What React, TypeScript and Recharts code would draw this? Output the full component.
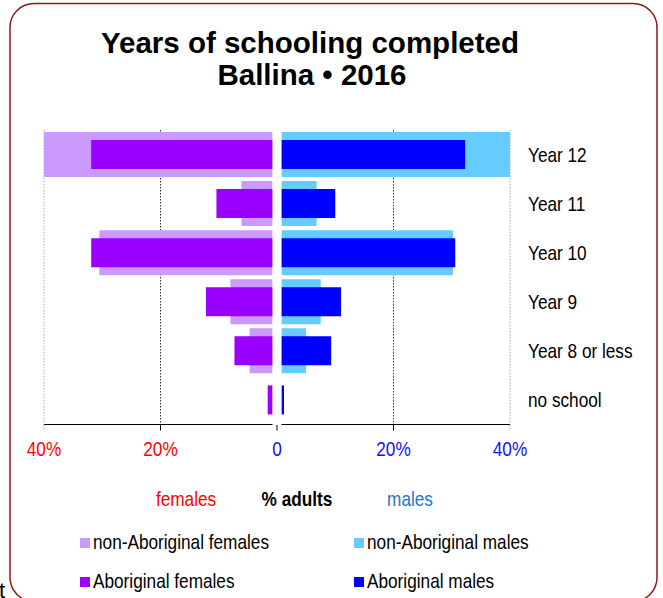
import React from 'react';
import { BarChart, Bar, XAxis, YAxis, CartesianGrid } from 'recharts';

const categories = ['Year 12', 'Year 11', 'Year 10', 'Year 9', 'Year 8 or less', 'no school'];
const nonAboriginalFemales = [45, 5.3, 29.7, 7.2, 3.9, 0];
const aboriginalFemales = [31.1, 9.6, 31.1, 11.4, 6.5, 0.8];
const nonAboriginalMales = [44, 6.0, 29.4, 6.7, 4.2, 0];
const aboriginalMales = [31.5, 9.2, 29.8, 10.2, 8.5, 0.4];
const xTicks = [-40, -20, 0, 20, 40];
const centreGap = 0.8;

const legendItems = [
  { name: 'non-Aboriginal females', color: '#CC99FF', col: 0, row: 0 },
  { name: 'non-Aboriginal males', color: '#66CCFF', col: 1, row: 0 },
  { name: 'Aboriginal females', color: '#9900FF', col: 0, row: 1 },
  { name: 'Aboriginal males', color: '#0000FF', col: 1, row: 1 },
];

const data = categories.map((cat, i) => ({
  cat,
  gapLn: -centreGap,
  gapRn: centreGap,
  gapLa: -centreGap,
  gapRa: centreGap,
  nonAbF: -nonAboriginalFemales[i],
  abF: -aboriginalFemales[i],
  nonAbM: nonAboriginalMales[i],
  abM: aboriginalMales[i],
}));

const SANS = "'Liberation Sans', Arial, sans-serif";
const NARROW_SCALE = 0.82;

const NText = ({ x, y, anchor = 'start', fill = '#000', bold = false, size = 21, children }: any) => (
  <text
    transform={`translate(${x},${y}) scale(${NARROW_SCALE},1)`}
    x={0}
    y={0}
    textAnchor={anchor}
    fill={fill}
    fontFamily={SANS}
    fontWeight={bold ? 'bold' : 'normal'}
    fontSize={size}
  >
    {children}
  </text>
);

const XTick = (props: any) => {
  const { x, y, payload } = props;
  const v = payload.value;
  const color = v < 0 ? '#FF0000' : '#1010FF';
  const label = v === 0 ? '0' : `${Math.abs(v)}%`;
  const outer = Math.abs(v) === 40;
  return (
    <g>
      {v === 0 && <rect x={x - 4.5} y={y - 2} width={9} height={3} fill="#fff" />}
      <line
        x1={x}
        x2={x}
        y1={v === 0 ? y + 0.5 : y}
        y2={y + 6}
        stroke={outer ? '#999' : '#000'}
        strokeDasharray={outer ? '1.5 1.5' : undefined}
      />
      <NText x={x} y={y + 31.5} anchor="middle" fill={color}>{label}</NText>
    </g>
  );
};

const YTick = (props: any) => {
  const { x, y, payload } = props;
  return <NText x={x} y={y + 7.5}>{payload.value}</NText>;
};

export default function App() {
  return (
    <div style={{ position: 'absolute', left: 0, top: 0, width: 663, height: 598, background: '#fff', overflow: 'hidden' }}>
      <div style={{ position: 'absolute', left: 0, top: 0 }}>
        <BarChart
          width={663}
          height={598}
          data={data}
          layout="vertical"
          stackOffset="sign"
          margin={{ top: 130, right: 0, bottom: 143.5, left: 44 }}
        >
          <CartesianGrid yAxisId="n" horizontal={false} verticalValues={[-20, 20]} stroke="#333" strokeDasharray="1.5 1.5" />
          <CartesianGrid yAxisId="n" horizontal={false} verticalValues={[-40, 40]} stroke="#aaa" strokeDasharray="1.5 1.5" />
          <XAxis
            type="number"
            domain={[-40, 40]}
            ticks={xTicks}
            allowDataOverflow
            height={30}
            tickSize={0}
            tickMargin={0}
            tickLine={false}
            axisLine={{ stroke: '#000', strokeWidth: 1 }}
            tick={<XTick />}
            interval={0}
          />
          <YAxis yAxisId="a" type="category" dataKey="cat" orientation="right" width={0} hide />
          <YAxis
            yAxisId="n"
            type="category"
            dataKey="cat"
            orientation="right"
            width={153}
            axisLine={false}
            tickLine={false}
            tickSize={0}
            tickMargin={18}
            interval={0}
            tick={<YTick />}
          />
          <Bar yAxisId="n" stackId="n" dataKey="gapLn" fill="none" barSize={45} isAnimationActive={false} />
          <Bar yAxisId="n" stackId="n" dataKey="nonAbF" fill="#CC99FF" barSize={45} isAnimationActive={false} />
          <Bar yAxisId="n" stackId="n" dataKey="gapRn" fill="none" barSize={45} isAnimationActive={false} />
          <Bar yAxisId="n" stackId="n" dataKey="nonAbM" fill="#66CCFF" barSize={45} isAnimationActive={false} />
          <Bar yAxisId="a" stackId="a" dataKey="gapLa" fill="none" barSize={29} isAnimationActive={false} />
          <Bar yAxisId="a" stackId="a" dataKey="abF" fill="#9900FF" barSize={29} isAnimationActive={false} />
          <Bar yAxisId="a" stackId="a" dataKey="gapRa" fill="none" barSize={29} isAnimationActive={false} />
          <Bar yAxisId="a" stackId="a" dataKey="abM" fill="#0000FF" barSize={29} isAnimationActive={false} />
        </BarChart>
      </div>
      <svg width={663} height={598} style={{ position: 'absolute', left: 0, top: 0, pointerEvents: 'none' }}>
        <rect x={10} y={3.5} width={647} height={598} rx={24} ry={24} fill="none" stroke="#8B1A1A" strokeWidth={1.5} />
        <text x={310} y={53} textAnchor="middle" fontFamily={SANS} fontWeight="bold" fontSize={29.5} fill="#000">
          Years of schooling completed
        </text>
        <text x={312} y={85} textAnchor="middle" fontFamily={SANS} fontWeight="bold" fontSize={29.5} fill="#000">
          Ballina • 2016
        </text>
        <NText x={186} y={506} anchor="middle" fill="#FF0000">females</NText>
        <NText x={297} y={506} anchor="middle" bold>% adults</NText>
        <NText x={410} y={506} anchor="middle" fill="#1E76C8">males</NText>
        {legendItems.map((it) => {
          const mx = it.col === 0 ? 80 : 354;
          const by = it.row === 0 ? 549 : 588;
          return (
            <g key={it.name}>
              <rect x={mx} y={by - 11} width={10} height={10} fill={it.color} />
              <NText x={mx + 13} y={by}>{it.name}</NText>
            </g>
          );
        })}
        <text x={-1} y={598} fontFamily={SANS} fontSize={22} fill="#000">t</text>
      </svg>
    </div>
  );
}
